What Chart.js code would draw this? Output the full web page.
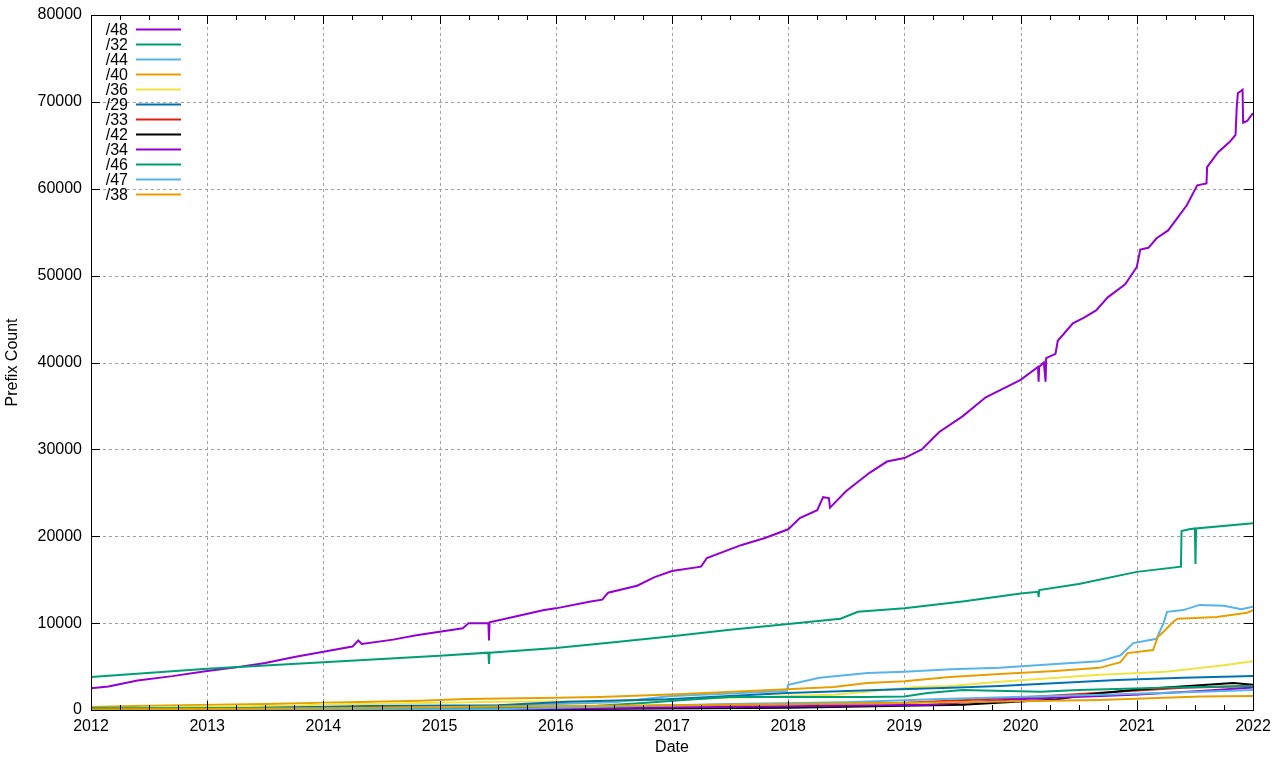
<!DOCTYPE html>
<html>
<head>
<meta charset="utf-8">
<title>Prefix Count</title>
<script src="https://cdn.jsdelivr.net/npm/chart.js@4"></script>
<style>
  html, body { margin: 0; padding: 0; background: #fff; }
  #wrap { width: 1280px; height: 760px; position: relative; }
</style>
</head>
<body>
<div id="wrap"><canvas id="chart"></canvas></div>
<script>
// Series names and colours (gnuplot default palette)
const labels = ['/48', '/32', '/44', '/40', '/36', '/29', '/33', '/42', '/34', '/46', '/47', '/38'];
const colors = ['#9400d3', '#009e73', '#56b4e9', '#e69f00', '#f0e442', '#0072b2',
                '#e51e10', '#000000', '#9400d3', '#009e73', '#56b4e9', '#e69f00'];

// Axis ticks
const yearTicks = [2012, 2013, 2014, 2015, 2016, 2017, 2018, 2019, 2020, 2021, 2022];
const countTicks = [0, 10000, 20000, 30000, 40000, 50000, 60000, 70000, 80000];

// [decimal year, prefix count]
const p48 = [
    [2012.0, 2500], [2012.15, 2700], [2012.4, 3400], [2012.7, 3900], [2013.0, 4500],
    [2013.3, 5000], [2013.5, 5400], [2013.75, 6100], [2014.0, 6700], [2014.25, 7300],
    [2014.3, 8000], [2014.33, 7600], [2014.6, 8100], [2014.8, 8600], [2015.0, 9000],
    [2015.2, 9400], [2015.25, 10000], [2015.42, 10000], [2015.425, 8000], [2015.43, 10100],
    [2015.7, 10900], [2015.9, 11500], [2016.0, 11700], [2016.3, 12500], [2016.4, 12700],
    [2016.45, 13500], [2016.7, 14300], [2016.85, 15300], [2017.0, 16000], [2017.25, 16500],
    [2017.3, 17500], [2017.6, 19000], [2017.8, 19800], [2018.0, 20800], [2018.1, 22100],
    [2018.25, 23000], [2018.3, 24500], [2018.35, 24400], [2018.36, 23300], [2018.5, 25200],
    [2018.7, 27300], [2018.85, 28600], [2019.0, 29000], [2019.15, 30000], [2019.3, 32000],
    [2019.5, 33800], [2019.7, 36000], [2019.85, 37000], [2020.0, 38000], [2020.15, 39500],
    [2020.155, 37800], [2020.16, 39500], [2020.2, 40000], [2020.215, 37800], [2020.22, 40500],
    [2020.3, 41000], [2020.32, 42500], [2020.45, 44500], [2020.55, 45200], [2020.65, 46000],
    [2020.75, 47500], [2020.9, 49000], [2021.0, 51000], [2021.03, 53000], [2021.1, 53200],
    [2021.17, 54300], [2021.27, 55200], [2021.43, 58100], [2021.52, 60400], [2021.6, 60600],
    [2021.605, 62500], [2021.7, 64200], [2021.8, 65400], [2021.85, 66200], [2021.86, 69400],
    [2021.87, 71000], [2021.91, 71400], [2021.915, 67600], [2021.95, 67800], [2022.0, 68700]
];
const p32 = [
    [2012.0, 3800], [2013.0, 4750], [2014.0, 5500], [2015.0, 6250], [2015.42, 6600],
    [2015.425, 5300], [2015.43, 6600], [2016.0, 7150], [2016.5, 7800], [2017.0, 8500],
    [2017.5, 9250], [2018.0, 9900], [2018.45, 10500], [2018.6, 11300], [2019.0, 11700],
    [2019.5, 12500], [2020.0, 13400], [2020.15, 13600], [2020.155, 13000], [2020.16, 13800],
    [2020.5, 14500], [2021.0, 15900], [2021.38, 16500], [2021.385, 20600], [2021.45, 20800],
    [2021.5, 20900], [2021.505, 16800], [2021.51, 20900], [2022.0, 21500]
];
const p44 = [
    [2012.0, 50], [2014.0, 300], [2015.5, 500], [2016.5, 900], [2017.0, 1600],
    [2017.5, 1900], [2017.99, 2200], [2018.0, 2900], [2018.27, 3700], [2018.68, 4250],
    [2019.0, 4400], [2019.4, 4700], [2019.82, 4850], [2020.3, 5300], [2020.68, 5600],
    [2020.86, 6300], [2020.97, 7700], [2021.17, 8200], [2021.23, 10000], [2021.26, 11300],
    [2021.4, 11500], [2021.54, 12100], [2021.75, 12000], [2021.9, 11600], [2022.0, 11900]
];
const p40 = [
    [2012.0, 350], [2012.36, 460], [2013.5, 700], [2014.83, 1070], [2015.23, 1260],
    [2016.0, 1400], [2016.38, 1500], [2017.1, 1850], [2017.99, 2400], [2018.39, 2650],
    [2018.68, 3100], [2019.0, 3300], [2019.39, 3800], [2019.82, 4150], [2020.3, 4500],
    [2020.68, 4850], [2020.86, 5500], [2020.92, 6550], [2021.14, 6900], [2021.18, 8400],
    [2021.23, 9000], [2021.31, 10100], [2021.35, 10500], [2021.69, 10700], [2021.95, 11200],
    [2022.0, 11500]
];
const p36 = [
    [2012.0, 150], [2013.0, 400], [2013.8, 500], [2014.0, 700], [2014.4, 700],
    [2015.5, 950], [2016.4, 1000], [2016.8, 1150], [2018.4, 1750], [2019.1, 2650],
    [2019.4, 2750], [2019.82, 3250], [2020.68, 4050], [2021.25, 4400], [2021.75, 5150],
    [2022.0, 5600]
];
const p29 = [
    [2012.0, 0], [2013.35, 230], [2014.4, 450], [2015.5, 550], [2016.1, 950],
    [2016.96, 1250], [2017.99, 1950], [2018.96, 2400], [2019.4, 2550], [2019.82, 2750],
    [2020.83, 3450], [2021.4, 3700], [2022.0, 3900]
];
const p33 = [
    [2012.0, 0], [2014.7, 100], [2016.5, 400], [2017.5, 600], [2018.96, 800],
    [2019.97, 1400], [2020.4, 1750], [2021.4, 2550], [2022.0, 2750]
];
const p42 = [
    [2012.0, 0], [2016.0, 100], [2018.0, 250], [2019.5, 600], [2020.3, 1200],
    [2020.62, 1850], [2021.03, 2400], [2021.83, 3100], [2022.0, 2900]
];
const p34 = [
    [2012.0, 0], [2016.0, 150], [2017.0, 300], [2019.2, 600], [2019.97, 1250],
    [2020.97, 1750], [2021.55, 2200], [2022.0, 2600]
];
const p46 = [
    [2012.0, 200], [2015.5, 230], [2016.2, 350], [2016.75, 800], [2017.1, 1150],
    [2017.5, 1500], [2018.68, 1500], [2019.0, 1550], [2019.2, 1950], [2019.5, 2300],
    [2020.17, 2100], [2020.5, 2300], [2021.3, 2600], [2022.0, 2750]
];
const p47 = [
    [2012.0, 0], [2015.5, 100], [2016.5, 400], [2017.5, 700], [2018.5, 900],
    [2019.25, 1250], [2020.1, 1550], [2020.7, 1750], [2021.55, 2100], [2022.0, 2300]
];
const p38 = [
    [2012.0, 50], [2014.0, 200], [2015.5, 400], [2017.0, 550], [2018.96, 800],
    [2020.68, 1150], [2021.55, 1550], [2022.0, 1600]
];

const series = [p48, p32, p44, p40, p36, p29, p33, p42, p34, p46, p47, p38];

const FONT = '"Liberation Sans", Arial, sans-serif';

// gnuplot style: dashed grid behind data, frame + inward ticks on top, key inside
const gnuplotFrame = {
    id: 'gnuplotFrame',
    beforeDatasetsDraw(chart) {
        const { ctx, chartArea: a, scales: { x, y } } = chart;
        ctx.save();
        ctx.strokeStyle = '#a0a0a0';
        ctx.lineWidth = 1;
        ctx.setLineDash([3, 3]);
        yearTicks.slice(1, -1).forEach(v => {
            const px = Math.round(x.getPixelForValue(v)) + 0.5;
            ctx.beginPath(); ctx.moveTo(px, a.top); ctx.lineTo(px, a.bottom); ctx.stroke();
        });
        countTicks.slice(1, -1).forEach(v => {
            const py = Math.round(y.getPixelForValue(v)) + 0.5;
            ctx.beginPath(); ctx.moveTo(a.left, py); ctx.lineTo(a.right, py); ctx.stroke();
        });
        ctx.restore();
    },
    afterDatasetsDraw(chart) {
        const { ctx, chartArea: a, scales: { x, y } } = chart;
        ctx.save();
        ctx.strokeStyle = '#000';
        ctx.lineWidth = 1;
        ctx.beginPath();
        // x ticks: years major, quarters minor
        for (let q = 0; q <= 40; q++) {
            const px = Math.round(x.getPixelForValue(2012 + q / 4)) + 0.5;
            const len = q % 4 === 0 ? 9 : 5;
            ctx.moveTo(px, a.bottom); ctx.lineTo(px, a.bottom - len);
            ctx.moveTo(px, a.top); ctx.lineTo(px, a.top + len);
        }
        countTicks.forEach(v => {
            const py = Math.round(y.getPixelForValue(v)) + 0.5;
            ctx.moveTo(a.left, py); ctx.lineTo(a.left + 9, py);
            ctx.moveTo(a.right, py); ctx.lineTo(a.right - 9, py);
        });
        ctx.stroke();
        ctx.strokeRect(Math.round(a.left) + 0.5, Math.round(a.top) + 0.5,
                       Math.round(a.right - a.left), Math.round(a.bottom - a.top));

        // key
        ctx.font = '16px ' + FONT;
        ctx.textAlign = 'right';
        ctx.textBaseline = 'middle';
        chart.data.datasets.forEach((ds, i) => {
            const cy = a.top + 14.5 + i * 15;
            ctx.fillStyle = '#000';
            ctx.fillText(ds.label, a.left + 37, cy + 1);
            ctx.strokeStyle = ds.borderColor;
            ctx.lineWidth = 2;
            ctx.beginPath();
            ctx.moveTo(a.left + 45, cy); ctx.lineTo(a.left + 90, cy);
            ctx.stroke();
        });
        ctx.restore();
    }
};

new Chart(document.getElementById('chart'), {
    type: 'line',
    data: {
        datasets: series.map((pts, i) => ({
            label: labels[i],
            data: pts.map(([x, y]) => ({ x, y })),
            borderColor: colors[i],
            backgroundColor: colors[i],
            borderWidth: 2,
            pointRadius: 0,
            tension: 0,
            order: series.length - i
        }))
    },
    options: {
        responsive: true,
        maintainAspectRatio: false,
        animation: false,
        layout: { padding: { left: 0, top: 15, right: 27, bottom: 0 } },
        plugins: {
            legend: { display: false },
            tooltip: { enabled: false }
        },
        scales: {
            x: {
                type: 'linear',
                min: 2012,
                max: 2022,
                afterFit(scale) {
                    scale.height = 50;
                    scale.paddingLeft = 0;
                    scale.paddingRight = 0;
                },
                afterBuildTicks(scale) { scale.ticks = yearTicks.map(v => ({ value: v })); },
                grid: { display: false, drawTicks: false },
                border: { display: false },
                ticks: {
                    padding: 7,
                    color: '#000',
                    maxRotation: 0,
                    font: { family: FONT, size: 16 },
                    callback: v => String(v)
                },
                title: {
                    display: true,
                    text: 'Date',
                    color: '#000',
                    font: { family: FONT, size: 16 },
                    padding: { top: 0, bottom: 3 }
                }
            },
            y: {
                min: 0,
                max: 80000,
                afterFit(scale) {
                    scale.width = 91;
                    scale.paddingTop = 0;
                    scale.paddingBottom = 0;
                },
                afterBuildTicks(scale) { scale.ticks = countTicks.map(v => ({ value: v })); },
                grid: { display: false, drawTicks: false },
                border: { display: false },
                ticks: {
                    padding: 9,
                    color: '#000',
                    font: { family: FONT, size: 16 },
                    callback: v => String(v)
                },
                title: {
                    display: true,
                    text: 'Prefix Count',
                    color: '#000',
                    font: { family: FONT, size: 16 },
                    padding: { top: 3, bottom: 0 }
                }
            }
        }
    },
    plugins: [gnuplotFrame]
});
</script>
</body>
</html>
